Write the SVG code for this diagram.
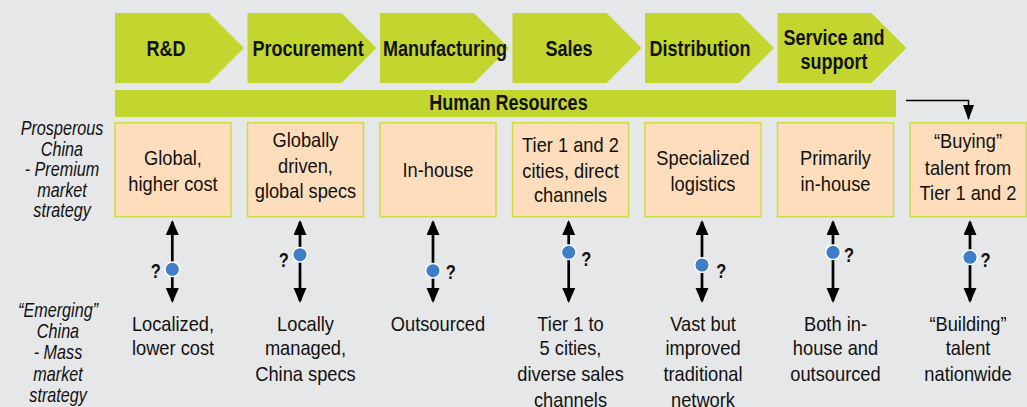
<svg xmlns="http://www.w3.org/2000/svg" width="1027" height="407" viewBox="0 0 1027 407">
<defs>
<style>
.bg{fill:#E6E7E8}
.chev{fill:#C3D62F}
.box{fill:#FDDDBB;stroke:#CDDC45;stroke-width:1.5}
text{transform-box:fill-box;transform-origin:center}
.hd{font-family:'Liberation Sans',Arial,sans-serif;font-weight:bold;font-size:22px;fill:#111;text-anchor:middle;transform:scaleX(0.82)}
.tx{font-family:'Liberation Sans',Arial,sans-serif;font-size:21px;fill:#111;text-anchor:middle;transform:scaleX(0.87)}
.lb{font-family:'Liberation Sans',Arial,sans-serif;font-style:italic;font-size:19.5px;fill:#111;text-anchor:middle;transform:scaleX(0.83)}
.q{font-family:'Liberation Sans',Arial,sans-serif;font-weight:bold;font-size:20px;fill:#111;text-anchor:middle;transform:scaleX(0.82)}
.ar{stroke:#000;stroke-width:2.7;fill:none;marker-start:url(#ah);marker-end:url(#ah)}
.dot{fill:#3F7FC8;stroke:#fff;stroke-width:1.5}
</style>
<marker id="ah" markerUnits="userSpaceOnUse" markerWidth="16" markerHeight="14" refX="13" refY="6.5" orient="auto-start-reverse">
<path d="M0,0 L15,6.5 L0,13 z" fill="#000"/>
</marker>
<marker id="ah2" markerUnits="userSpaceOnUse" markerWidth="16" markerHeight="12" refX="14" refY="5.5" orient="auto">
<path d="M0,0 L15,5.5 L0,11 z" fill="#000"/>
</marker>
</defs>
<rect class="bg" x="0" y="0" width="1027" height="407"/>

<g id="chain">
<g id="rd"><polygon class="chev" points="115,13 209,13 244,48 209,83 115,83"/><text class="hd" x="166" y="56">R&amp;D</text></g>
<g id="procurement"><polygon class="chev" points="247.5,13 341.5,13 376.5,48 341.5,83 247.5,83"/><text class="hd" x="308" y="56">Procurement</text></g>
<g id="manufacturing"><polygon class="chev" points="380,13 474,13 509,48 474,83 380,83"/><text class="hd" x="445" y="56">Manufacturing</text></g>
<g id="sales"><polygon class="chev" points="512.5,13 606.5,13 641.5,48 606.5,83 512.5,83"/><text class="hd" x="569" y="56">Sales</text></g>
<g id="distribution"><polygon class="chev" points="645,13 739,13 774,48 739,83 645,83"/><text class="hd" x="700" y="56">Distribution</text></g>
<g id="service"><polygon class="chev" points="777.5,13 871.5,13 906.5,48 871.5,83 777.5,83"/><text class="hd" x="834" y="45">Service and</text><text class="hd" x="834" y="69">support</text></g>
</g>

<g id="hr"><rect class="chev" x="115" y="90" width="781" height="27"/><text class="hd" x="508.5" y="110">Human Resources</text></g>

<g id="label-prosperous">
<text class="lb" x="62" y="135">Prosperous</text>
<text class="lb" x="62" y="156">China</text>
<text class="lb" x="62" y="176.5">- Premium</text>
<text class="lb" x="62" y="197">market</text>
<text class="lb" x="62" y="217.5">strategy</text>
</g>
<g id="label-emerging">
<text class="lb" x="58" y="317">“Emerging”</text>
<text class="lb" x="58" y="338">China</text>
<text class="lb" x="58" y="359.5">- Mass</text>
<text class="lb" x="58" y="381">market</text>
<text class="lb" x="58" y="402">strategy</text>
</g>

<g id="premium">
<g id="p-rd"><rect class="box" x="115" y="122.7" width="116" height="94"/><text class="tx" x="173" y="165">Global,</text><text class="tx" x="173" y="191">higher cost</text></g>
<g id="p-proc"><rect class="box" x="247.5" y="122.7" width="116" height="94"/><text class="tx" x="305.5" y="147.5">Globally</text><text class="tx" x="305.5" y="173">driven,</text><text class="tx" x="305.5" y="198">global specs</text></g>
<g id="p-manu"><rect class="box" x="380" y="122.7" width="116" height="94"/><text class="tx" x="438" y="177">In-house</text></g>
<g id="p-sales"><rect class="box" x="512.5" y="122.7" width="116" height="94"/><text class="tx" x="570.5" y="152.5">Tier 1 and 2</text><text class="tx" x="570.5" y="178">cities, direct</text><text class="tx" x="570.5" y="202">channels</text></g>
<g id="p-dist"><rect class="box" x="645" y="122.7" width="116" height="94"/><text class="tx" x="703" y="165">Specialized</text><text class="tx" x="703" y="191">logistics</text></g>
<g id="p-serv"><rect class="box" x="777.5" y="122.7" width="116" height="94"/><text class="tx" x="835.5" y="165">Primarily</text><text class="tx" x="835.5" y="191">in-house</text></g>
<g id="p-hr"><rect class="box" x="910" y="122.7" width="116" height="94"/><text class="tx" x="968" y="148">“Buying”</text><text class="tx" x="968" y="175">talent from</text><text class="tx" x="968" y="200.5">Tier 1 and 2</text></g>
</g>

<g id="mass">
<g id="m-rd"><text class="tx" x="173" y="331">Localized,</text><text class="tx" x="173" y="355.5">lower cost</text></g>
<g id="m-proc"><text class="tx" x="305.5" y="331">Locally</text><text class="tx" x="305.5" y="355.5">managed,</text><text class="tx" x="305.5" y="381">China specs</text></g>
<g id="m-manu"><text class="tx" x="438" y="331">Outsourced</text></g>
<g id="m-sales"><text class="tx" x="570.5" y="331">Tier 1 to</text><text class="tx" x="570.5" y="355.5">5 cities,</text><text class="tx" x="570.5" y="381">diverse sales</text><text class="tx" x="570.5" y="407.5">channels</text></g>
<g id="m-dist"><text class="tx" x="703" y="331">Vast but</text><text class="tx" x="703" y="355.5">improved</text><text class="tx" x="703" y="381">traditional</text><text class="tx" x="703" y="407.5">network</text></g>
<g id="m-serv"><text class="tx" x="835.5" y="331">Both in-</text><text class="tx" x="835.5" y="355.5">house and</text><text class="tx" x="835.5" y="381">outsourced</text></g>
<g id="m-hr"><text class="tx" x="968" y="331">“Building”</text><text class="tx" x="968" y="355.5">talent</text><text class="tx" x="968" y="381">nationwide</text></g>
</g>

<g id="connectors">
<path d="M906,100.5 H968.5 V119" stroke="#000" stroke-width="1.5" fill="none" marker-end="url(#ah2)"/>
<line class="ar" x1="172.3" y1="222" x2="172.3" y2="301"/>
<line class="ar" x1="300" y1="222" x2="300" y2="301"/>
<line class="ar" x1="433" y1="222" x2="433" y2="301"/>
<line class="ar" x1="568.7" y1="222" x2="568.7" y2="301"/>
<line class="ar" x1="702" y1="222" x2="702" y2="301"/>
<line class="ar" x1="833" y1="222" x2="833" y2="301"/>
<line class="ar" x1="970" y1="222" x2="970" y2="301"/>
</g>

<g id="markers">
<circle class="dot" cx="172.3" cy="269.3" r="7.3"/><text class="q" x="155.8" y="278">?</text>
<circle class="dot" cx="300" cy="254.7" r="7.3"/><text class="q" x="283.7" y="266.7">?</text>
<circle class="dot" cx="433" cy="270.7" r="7.3"/><text class="q" x="450.8" y="279.3">?</text>
<circle class="dot" cx="568.7" cy="252.3" r="7.3"/><text class="q" x="586.3" y="265.7">?</text>
<circle class="dot" cx="702" cy="265" r="7.3"/><text class="q" x="721.3" y="278.3">?</text>
<circle class="dot" cx="833" cy="252.3" r="7.3"/><text class="q" x="849" y="261.7">?</text>
<circle class="dot" cx="970" cy="257.3" r="7.3"/><text class="q" x="985.5" y="266.7">?</text>
</g>
</svg>
